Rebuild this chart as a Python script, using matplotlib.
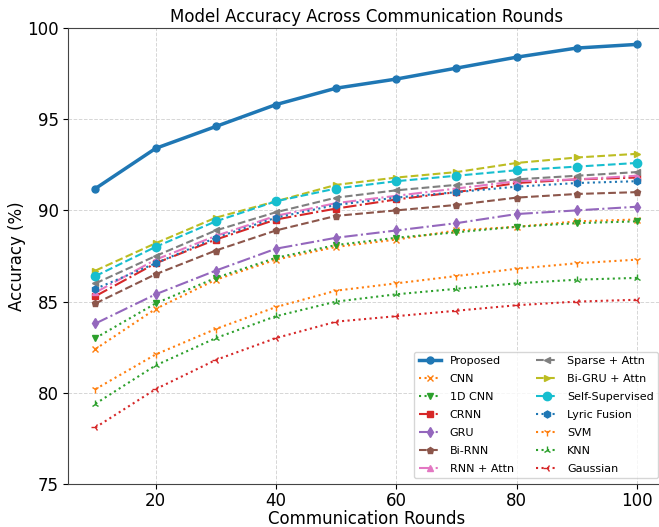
import numpy as np
import matplotlib
matplotlib.use("Agg")
import matplotlib.pyplot as plt

# communication rounds
rounds = [10, 20, 30, 40, 50, 60, 70, 80, 90, 100]

# accuracy (%) per model
proposed = [91.2, 93.4, 94.6, 95.8, 96.7, 97.2, 97.8, 98.4, 98.9, 99.1]
cnn = [82.4, 84.6, 86.2, 87.3, 88.0, 88.4, 88.9, 89.1, 89.4, 89.5]
cnn_1d = [83.0, 84.9, 86.3, 87.4, 88.1, 88.5, 88.8, 89.1, 89.3, 89.4]
crnn = [85.3, 87.1, 88.4, 89.5, 90.1, 90.6, 91.0, 91.5, 91.7, 91.8]
gru = [83.8, 85.4, 86.7, 87.9, 88.5, 88.9, 89.3, 89.8, 90.0, 90.2]
bi_rnn = [84.9, 86.5, 87.8, 88.9, 89.7, 90.0, 90.3, 90.7, 90.9, 91.0]
rnn_attn = [85.5, 87.3, 88.6, 89.7, 90.4, 90.8, 91.2, 91.6, 91.7, 91.9]
sparse_attn = [86.0, 87.5, 88.9, 89.9, 90.7, 91.1, 91.4, 91.7, 91.9, 92.1]
bi_gru_attn = [86.7, 88.2, 89.6, 90.5, 91.4, 91.8, 92.1, 92.6, 92.9, 93.1]
self_sup = [86.4, 88.0, 89.4, 90.5, 91.2, 91.6, 91.9, 92.2, 92.4, 92.6]
lyric_fusion = [85.7, 87.1, 88.5, 89.6, 90.3, 90.7, 91.0, 91.3, 91.5, 91.6]
svm = [80.2, 82.1, 83.5, 84.7, 85.6, 86.0, 86.4, 86.8, 87.1, 87.3]
knn = [79.4, 81.5, 83.0, 84.2, 85.0, 85.4, 85.7, 86.0, 86.2, 86.3]
gaussian = [78.1, 80.2, 81.8, 83.0, 83.9, 84.2, 84.5, 84.8, 85.0, 85.1]

fig = plt.figure(figsize=(6.59, 5.27), dpi=100)
ax = fig.add_axes([0.1038, 0.0816, 0.9038, 0.8653])

ax.plot(rounds, proposed, '-o', color='tab:blue', lw=2.5, ms=5, label='Proposed')
ax.plot(rounds, cnn, ':x', color='tab:orange', lw=1.5, ms=5, label='CNN')
ax.plot(rounds, cnn_1d, ':v', color='tab:green', lw=1.5, ms=5, label='1D CNN')
ax.plot(rounds, crnn, '-.s', color='tab:red', lw=1.5, ms=5, label='CRNN')
ax.plot(rounds, gru, '-.d', color='tab:purple', lw=1.5, ms=5, label='GRU')
ax.plot(rounds, bi_rnn, '--p', color='tab:brown', lw=1.5, ms=5, label='Bi-RNN')
ax.plot(rounds, rnn_attn, '-.^', color='tab:pink', lw=1.5, ms=5, label='RNN + Attn')
ax.plot(rounds, sparse_attn, '--<', color='tab:gray', lw=1.5, ms=5, label='Sparse + Attn')
ax.plot(rounds, bi_gru_attn, '-->', color='tab:olive', lw=1.5, ms=5, label='Bi-GRU + Attn')
ax.plot(rounds, self_sup, '--o', color='tab:cyan', lw=1.5, ms=6, label='Self-Supervised')
ax.plot(rounds, lyric_fusion, ':h', color='tab:blue', lw=1.5, ms=5, label='Lyric Fusion')
ax.plot(rounds, svm, ':1', color='tab:orange', lw=1.5, ms=6, label='SVM')
ax.plot(rounds, knn, ':2', color='tab:green', lw=1.5, ms=6, label='KNN')
ax.plot(rounds, gaussian, ':3', color='tab:red', lw=1.5, ms=6, label='Gaussian')

ax.set_ylim(75, 100)
ax.set_xticks([20, 40, 60, 80, 100])
ax.set_yticks([75, 80, 85, 90, 95, 100])
ax.tick_params(labelsize=12)
ax.tick_params(axis='x', pad=2.5)
ax.set_title('Model Accuracy Across Communication Rounds', fontsize=12, pad=4)
ax.set_xlabel('Communication Rounds', fontsize=12, labelpad=0)
ax.set_ylabel('Accuracy (%)', fontsize=12, labelpad=1)
ax.grid(True, linestyle='--', color='#cccccc', linewidth=0.7, alpha=0.8)
for s in ax.spines.values():
    s.set_color('#444444')

ax.legend(loc='lower right', ncol=2, fontsize=8, labelspacing=0.72)

fig.savefig('out.png', dpi=100)
